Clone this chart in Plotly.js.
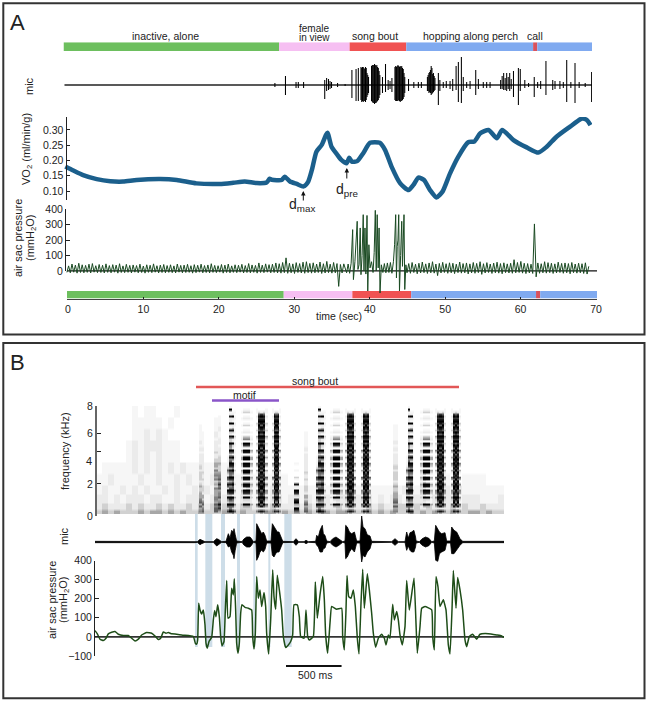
<!DOCTYPE html>
<html><head><meta charset="utf-8">
<script src="https://cdn.plot.ly/plotly-3.0.1.min.js"></script>
<style>html,body{margin:0;padding:0;background:#fff}</style></head>
<body><div id="chart" style="width:648px;height:702px"></div>
<script>
// ---------- Panel A data ----------
const stateNames = ['inactive, alone','female in view','song bout','hopping along perch','call','hopping along perch'];
const stateColors = ['#6dbf5e','#f6bff2','#f05252','#80aaf0','#d8525e','#80aaf0'];
const stateStartTop = [0,28.55,37.9,45.4,62.2,62.75];
const stateEndTop = [28.55,37.9,45.4,62.2,62.75,70];
const stateStartBot = [-0.13,28.6,37.7,45.5,62.05,62.6];
const stateEndBot = [28.6,37.7,45.5,62.05,62.6,70.13];

const micAT = [28,29.4,30.8,31.1,31.8,34.6,34.85,35.1,35.3,35.5,36.3,37.3,38.2,38.75,39.05,
 39.4,39.5,39.6,39.7,39.8,39.9,40,40.1,40.2,40.3,40.4,
 40.8,40.9,41,41.1,41.2,41.3,41.4,41.5,41.6,41.7,41.8,41.9,
 42.25,42.65,43,43.25,43.5,
 43.9,44,44.1,44.2,44.3,44.4,44.5,44.6,44.7,44.8,44.9,45,45.1,45.2,
 45.7,46.4,47,47.4,
 48.2,48.3,48.4,48.5,48.6,48.7,48.8,48.9,49,49.1,49.2,
 49.65,49.85,50.3,50.7,51.2,51.55,52,52.3,52.7,52.95,53.4,53.85,54.6,54.95,55.6,56.05,56.5,
 57.9,58.1,58.3,58.5,58.7,58.9,59.1,59.3,59.6,60.25,60.5,61.1,61.6,62.35,62.8,63.2,63.9,64.8,65.1,65.75,66.2,66.65,67.2,67.75,68.3,69.1,69.95];
const micAUp = [2,9,3,3,3,5,7,6,4,3,2,1,15,16,17,
 18,17,18,18,17,16,18,17,12,10,8,
 19,20,20,20,21,20,19,20,18,17,14,10,
 8,21,5,4,7,
 18,19,18,19,20,19,18,19,18,19,17,16,12,8,
 6,3,3,3,
 8,10,12,13,15,19,17,11,12,9,7,
 12,5,3,4,4,6,19,23,28,8,3,4,15,6,3,3,3,
 5,9,12,7,12,8,12,6,14,17,16,5,2,8,3,4,24,5,4,4,3,25,3,22,3,2,13];
const micADown = [2,10,3,3,3,14,6,5,4,3,2,1,13,16,16,
 15,17,16,17,16,16,17,15,12,10,8,
 16,17,18,18,19,18,18,17,16,15,13,10,
 8,7,5,4,7,
 15,16,16,16,16,15,16,17,16,16,15,14,12,8,
 6,3,3,3,
 6,6,8,7,8,10,9,8,7,6,5,
 20,6,3,3,4,6,5,17,18,6,3,4,10,4,3,3,3,
 4,4,5,5,6,4,6,4,12,20,6,3,2,12,3,4,10,5,4,4,3,17,3,18,3,2,17];

const vo2T = [0.24,1.3,2.6,4.4,6.2,7.9,9.7,12.8,15,17.6,20.7,22.5,24,25.6,26.9,27.3,27.6,28.9,29.3,30,30.9,31.8,32.4,32.9,33.5,34.2,34.95,
 35.5,36.2,36.8,37.5,37.85,38.2,38.9,39.7,40.6,41.9,42.6,43.45,44.6,45.7,46.35,47,47.75,48.55,49.4,50.2,51.2,52.3,53.6,54.4,55.2,56.3,57.4,58.1,59.6,61.35,62.9,64,65.3,67.1,68.6,69.3,69.8];
const vo2V = [0.18,0.167,0.152,0.139,0.132,0.131,0.136,0.139,0.136,0.125,0.123,0.127,0.131,0.126,0.128,0.14,0.137,0.136,0.147,0.131,0.123,0.115,0.13,0.169,0.229,0.251,0.291,
 0.245,0.221,0.202,0.191,0.209,0.196,0.198,0.224,0.258,0.258,0.234,0.18,0.125,0.103,0.12,0.144,0.136,0.103,0.079,0.098,0.158,0.213,0.26,0.262,0.289,0.30,0.273,0.30,0.267,0.243,0.226,0.245,0.278,0.311,0.337,0.333,0.316];

const pressStep = 0.225, pressStartBefore = 0.45, pressStartAfter = 45.5;
const pressBefore = [-9,33,-12,45,-8,38,-14,50,-10,40,-12,36,-9,44,-13,48,-8,34,-11,42,
 -10,37,-13,46,-9,35,-12,41,-8,38,-14,47,-10,33,-11,43,-9,36,-13,39,
 -8,35,-12,44,-10,32,-14,40,-9,37,-11,46,-8,34,-13,38,-10,42,-12,35,
 -9,40,-11,33,-13,45,-8,36,-12,38,-10,43,-9,34,-14,41,-11,37,-8,44,
 -12,35,-10,39,-13,47,-9,36,-11,34,-8,42,-14,38,-10,45,-12,33,-9,40,
 -11,37,-8,43,-13,35,-10,48,-12,39,-9,36,-14,52,-10,38,-11,46,-8,41,
 -12,44,-10,52,-13,47,-14,55,-11,85,-15,50,-12,46,-16,54,-10,48,-13,57,
 -15,60,-11,49,-14,53,-12,45,-10,58,-16,47,-13,62,-11,44,-14,55,-12,48,
 -100,42,-13,46];
const pressSongT = [37.5,37.7,37.9,38.1,38.3,38.4,38.6,38.9,39,39.15,39.3,39.4,39.55,39.7,39.8,39.93,40.05,40.2,40.3,40.45,40.6,40.8,41,41.15,41.3,41.42,41.55,41.68,41.8,41.92,42.1,42.3,42.5,42.7,42.9,43.1,43.3,43.5,43.7,43.85,44,44.1,44.2,44.3,44.4,44.5,44.65,44.8,44.9,45,45.1,45.2,45.35];
const pressSongV = [-12,45,-15,50,268,-56,60,322,10,40,279,-24,100,365,0,279,-20,360,-130,170,20,60,-10,120,393,0,365,20,279,-143,40,-10,48,-12,52,-10,55,-15,60,170,365,-45,160,200,365,-130,100,322,30,279,365,-120,40];
const pressAfter = [-12,48,-15,55,-10,44,-18,50,-13,58,-11,46,-16,52,-12,60,-14,45,-30,49,
 -13,56,-10,47,-15,53,-12,50,-17,44,-11,58,-14,48,-12,52,-19,46,-13,55,
 -15,49,-11,60,-22,47,-13,54,-10,45,-16,51,-12,57,-14,48,-18,53,-11,46,
 -13,50,-15,73,-12,55,-10,62,-14,50,-17,48,-13,44,-16,305,-38,52,-15,47,
 -12,60,-14,54,-11,50,-16,46,-13,57,-10,49,-15,52,-12,48,-18,55,-11,45,
 -14,50,-12,47,-16,53,-20,30];

// ---------- Panel B data ----------
const sylStart = [930,952, 1065,1095, 1179,1200,1222,1245, 1305,1325,1390, 1440,1460,1480,1505,1525, 1581,1598,1615,1635,1650, 1785, 1875,
 1980,2000,2025,2050, 2109,2130,2198, 2241,2260,2280,2305,2325, 2385,2402,2420,2440,2458, 2670,
 2790,2808,2830,2850, 2919,2940,3008, 3051,3070,3090,3115,3135, 3195,3212,3230,3250,3268];
const sylEnd   = [952,975, 1095,1125, 1200,1222,1245,1260, 1325,1390,1410, 1460,1480,1505,1525,1545, 1598,1615,1635,1650,1665, 1830, 1905,
 2000,2025,2050,2070, 2130,2198,2220, 2260,2280,2305,2325,2340, 2402,2420,2440,2458,2475, 2715,
 2808,2830,2850,2865, 2940,3008,3030, 3070,3090,3115,3135,3150, 3212,3230,3250,3268,3285];
const sylKind  = ['fa','fb','s2a','s2b','s3a','s3b','s3c','s3e','s4e','s4','s4e','de','dc','dd','dc','de','de','dd','dc','dd','de','s7','fb',
 's3a','s3b','s3c','s3e','s4e','s4','s4e','de','dc','dd','dc','de','de','dd','dc','dd','de','fa',
 's3a','s3b','s3c','s3e','s4e','s4','s4e','de','dc','dd','dc','de','de','dd','dc','dd','de'];
// darkness by frequency, low to high (1/6 kHz per digit)
const fa  = "354646544433432333323322222122122111111100000000";
const fb  = "265465344233322322322222222122111111100000000000";
const s2a = "266564554445343545453443322322222122211111100000";
const s2b = "247685465546574655433343332222122211122111110000";
const s3a = "373693593693683672463211110000000000000000000000";
const s3b = "495694793796584795684796583694593382381292282191";
const s3c = "583694692796695794695793592692392291382291292100";
const s3e = "261350240241130120130120120110120130110120110100";
const s4  = "100490390790890890990890990890790530210310210310";
const s4e = "000240130340340340340340440340230210100100100100";
const de  = "250460350450350460240350240350230240130230120110";
const dc  = "370695896797896978697978896979869797968979786300";
const dd  = "480869797869979687968797978696979796879689797200";
const s7  = "169049703790280130010010000000000000000000000000";
const specProfiles = {fa,fb,s2a,s2b,s3a,s3b,s3c,s3e,s4,s4e,de,dc,dd,s7};
// background haze of the spectrogram, bottom band first
const bgBandLow = [0,2,5,9,13,18,23,28,33,38,43];
const bgGrid = [
 "34343334344343433433344343334434343433434433343434334343433433443433",
 "23222323223232232323232233222322232323223232232322332323222323223222",
 "22121222122112122212122122121221221212212212221212212221212212221112",
 "12112121211212112121112112111211111111111111111111121121112121111111",
 "11211112112112121112111111111111000000000000000000000010011001111000",
 "01111121212121211111111000010000000000000000000000000000000000000000",
 "00000121212111000000000000000000000000000000000000000000000000000000",
 "00000121222111000000000000000000000000000000000000000000000000000000",
 "00000011212100000000000000000000000000000000000000000000000000000000",
 "00000011111010000000000000000000000000000000000000000000000000000000",
 "00000010110001000000000000000000000000000000000000000000000000000000"];

const blockStart = [900,993,1134,1278,1425,1560,1704];
const blockEnd   = [924,1056,1170,1305,1443,1578,1770];

// mic envelope in panel B: time (ms), upper and lower extent
const micBT    = [0,900,921,945,960,990,1065,1095,1110,1140,1179,1190,1200,1215,1230,1245,1251,1262,1275,1323,1340,1365,1395,1410,1425,1449,1455,1470,1485,1500,1515,1530,1545,1584,1596,1611,1626,1641,1656,1671,1690,1785,1809,1833,1881,1899,1920,1986,1995,2010,2025,2046,2055,2070,2085,2115,2140,2169,2195,2229,2250,2256,2271,2290,2310,2335,2355,2385,2394,2400,2412,2430,2450,2475,2490,2670,2700,2730,2790,2805,2820,2835,2850,2870,2885,2890,2919,2945,2975,3005,3030,3054,3066,3085,3100,3120,3150,3165,3200,3210,3231,3255,3285,3309,3681];
const micBUp   = [2,2,1,8,5,1,1,10,8,1,2,15,25,12,35,30,40,22,3,1,9,15,15,9,1,3,55,45,35,25,30,20,3,3,55,45,35,30,30,15,2,1,10,1,1,5,1,2,20,15,35,50,25,20,3,1,10,15,10,1,3,50,45,30,25,30,3,3,45,78,45,40,22,18,2,1,10,1,1,30,12,28,30,35,15,3,1,10,15,11,1,3,50,38,30,25,28,3,3,45,35,30,10,2,2];
const micBDown = [2,2,1,8,5,1,1,12,8,1,2,8,15,12,30,40,50,25,3,1,9,15,15,9,1,3,55,45,30,25,30,22,3,3,40,45,35,30,30,15,2,1,10,1,1,5,1,2,10,15,30,30,20,18,3,1,10,15,10,1,3,50,45,30,20,30,3,3,40,60,40,45,30,20,2,1,10,1,1,25,12,25,30,30,15,3,1,10,15,11,1,3,55,58,35,30,25,3,3,35,35,25,10,2,2];

const pressBT = [0,21,45,75,99,120,150,180,210,255,300,330,360,390,420,465,510,540,570,591,615,639,660,690,735,795,885,903,915,924,933,945,960,975,990,999,1011,1026,1050,1065,1077,1089,1104,1119,1131,1143,1161,1173,1185,1197,1215,1230,1245,1254,1266,1275,1287,1299,1311,1323,1350,1380,1410,1419,1431,1443,1455,1470,1485,1500,1521,1536,1545,1563,1581,1599,1611,1626,1641,1659,1680,1695,1716,1740,1761,1779,
 1791,1821,1839,1851,1881,1899,1914,1929,1965,1983,2001,2025,2049,2064,2076,2094,2115,2130,2175,2220,2229,2244,2259,2268,2283,2304,2325,2343,2361,2376,2394,2409,2424,2451,2469,2490,2505,2526,2550,2580,2604,2619,2640,2655,2679,2694,2715,2730,2745,2766,2790,2805,2829,2871,2889,2901,2925,2940,2970,3030,3039,3054,3069,3087,3105,3135,3159,3180,3195,3213,3225,3249,3264,3285,3309,3330,3345,3369,3399,3435,3465,3540,3615,3660,3681];
const pressBV = [33,16,-12,-19,-7,16,24,28,14,7,7,-7,-21,-12,10,23,19,5,-14,-7,26,19,23,16,14,9,2,-33,-38,-16,176,141,120,141,63,-33,-59,-24,-2,89,138,106,168,106,2,-47,-24,141,295,98,106,255,220,304,141,-33,-85,-33,124,168,155,150,141,2,-63,19,316,202,246,159,232,159,19,-89,89,351,211,145,323,246,141,2,-56,-42,-24,10,
 168,168,106,2,-7,141,2,-16,2,288,98,220,316,195,10,-85,72,159,145,150,2,-68,141,321,211,202,246,159,-7,-89,176,354,150,330,246,124,19,-54,-7,14,-7,-42,10,-7,171,89,133,89,10,-42,54,295,141,307,72,-85,54,150,159,141,2,-68,316,262,159,194,141,-42,-89,141,347,150,311,246,141,-16,-51,2,14,-12,14,17,10,5,-3];

const scaleBarT = [1719,2219];
const songBoutT = [909,3276];
const motifT = [1053,1656];

// ---------- pixel helpers ----------
const W = 648, H = 702;
const px = v => v / W, py = v => 1 - v / H;
const domX = (a,b) => [a/W, b/W];
const domY = (top,bottom) => [1-bottom/H, 1-top/H];
const FONT = 'Liberation Sans, Arial, sans-serif', INK = '#222';

const traces = [];
function stateBars(starts, ends, xa, ya){
  stateColors.forEach((c,i) => traces.push({type:'bar',orientation:'h',x:[ends[i]-starts[i]],base:[starts[i]],y:[0],width:[1],
    xaxis:xa,yaxis:ya,marker:{color:c,line:{width:0}},hoverinfo:'skip',showlegend:false,name:stateNames[i]}));
}
stateBars(stateStartTop,stateEndTop,'x2','y');
stateBars(stateStartBot,stateEndBot,'x','y6');

// mic A
traces.push({type:'scatter',mode:'lines',x:[0.13,70],y:[0,0],xaxis:'x2',yaxis:'y2',line:{color:'#222',width:1.4}});
const mx=[],my=[];
micAT.forEach((t,i)=>{mx.push(t,t,null);my.push(micAUp[i],-micADown[i],null);});
traces.push({type:'scatter',mode:'lines',x:mx,y:my,xaxis:'x2',yaxis:'y2',line:{color:'#000',width:1.05},connectgaps:false});

// VO2
traces.push({type:'scatter',mode:'lines',x:vo2T,y:vo2V,xaxis:'x2',yaxis:'y3',line:{color:'#1b5f8c',width:4.5,shape:'spline',smoothing:0.6}});

// pressure A: visible axis (y4) holds the ticks, y5 extends below zero for the trace
traces.push({type:'scatter',mode:'lines',x:[0],y:[0],xaxis:'x2',yaxis:'y4',line:{width:0}});
const pax=[],pay=[];
pressBefore.forEach((v,i)=>{pax.push(pressStartBefore+i*pressStep);pay.push(v);});
pressSongT.forEach((t,i)=>{pax.push(t);pay.push(pressSongV[i]);});
pressAfter.forEach((v,i)=>{pax.push(pressStartAfter+i*pressStep);pay.push(v);});
traces.push({type:'scatter',mode:'lines',x:pax,y:pay,xaxis:'x2',yaxis:'y5',line:{color:'#1a4a22',width:1}});
traces.push({type:'scatter',mode:'lines',x:[-0.13,70.13],y:[0,0],xaxis:'x',yaxis:'y5',line:{color:'#111',width:1.3}});

// spectrogram
const colStep=9, rowN=48, colN=Math.round(3681/colStep);
const specX=[],specY=[],specZ=[];
for(let c=0;c<colN;c++) specX.push((c+0.5)*colStep);
for(let r=0;r<rowN;r++){
  specY.push(0.14+(r+0.5)*7.86/rowN);
  let band=0; bgBandLow.forEach((lo,i)=>{if(r>=lo)band=i;});
  const row=[];
  for(let c=0;c<colN;c++){
    const t=specX[c];
    let d=+(bgGrid[band][Math.floor(t/54)]||0);
    sylStart.forEach((s,i)=>{
      if(t>=s&&t<sylEnd[i]){const v=+(specProfiles[sylKind[i]][r]||0); if(v>d)d=v;}
    });
    row.push(d);
  }
  specZ.push(row);
}
traces.push({type:'heatmap',x:specX,y:specY,z:specZ,xaxis:'x3',yaxis:'y7',zmin:0,zmax:9,showscale:false,hoverinfo:'skip',zsmooth:'best',
  colorscale:[[0,'#ffffff'],[0.11,'#f6f6f6'],[0.22,'#ececec'],[0.33,'#d2d2d2'],[0.44,'#a8a8a8'],[0.66,'#606060'],[0.85,'#1c1c1c'],[1,'#000000']]});

// mic B (envelope, filled)
traces.push({type:'scatter',mode:'lines',x:micBT.concat(micBT.slice().reverse()),
  y:micBUp.concat(micBDown.map(v=>-v).reverse()),xaxis:'x3',yaxis:'y8',fill:'toself',fillcolor:'#000',line:{color:'#000',width:0.8}});

// pressure B
traces.push({type:'scatter',mode:'lines',x:[0,3681],y:[0,0],xaxis:'x3',yaxis:'y9',line:{color:'#333',width:1.6}});
traces.push({type:'scatter',mode:'lines',x:pressBT,y:pressBV,xaxis:'x3',yaxis:'y9',line:{color:'#1e4d18',width:1.5,shape:'spline',smoothing:0.35}});

// ---------- annotations ----------
function label(text,x,y,size,opt){
  return Object.assign({text,x:px(x),y:py(y),xref:'paper',yref:'paper',showarrow:false,xanchor:'center',yanchor:'middle',
    font:{family:FONT,size:size||10.5,color:INK}},opt||{});
}
const rot={textangle:-90};
const annotations=[
 label('A',17,22,22), label('B',17,362,22),
 label('inactive, alone',165,36), label('female',314,28.5,10), label('in view',314,38,10),
 label('song bout',375,36), label('hopping along perch',470,36), label('call',535,36),
 label('mic',29,86,11,rot),
 label('VO<sub>2</sub> (ml/min/g)',27,149,11,rot),
 label('air sac pressure',18,238,11,rot), label('(mmH<sub>2</sub>O)',31,238,11,rot),
 label('time (sec)',339,316,10.5),
 label('d<sub>max</sub>',302,205,14), label('d<sub>pre</sub>',347.5,190,14),
 {x:px(303.3),y:py(191),ax:0,ay:11,xref:'paper',yref:'paper',text:'',showarrow:true,arrowhead:2,arrowsize:0.9,arrowwidth:1,arrowcolor:'#111'},
 {x:px(346.8),y:py(168),ax:0,ay:12,xref:'paper',yref:'paper',text:'',showarrow:true,arrowhead:2,arrowsize:0.9,arrowwidth:1,arrowcolor:'#111'},
 label('song bout',315,381), label('motif',244,395),
 label('frequency (kHz)',65,451,11,rot), label('mic',64,536,11,rot),
 label('air sac pressure',52,600,11,rot), label('(mmH<sub>2</sub>O)',64,600,11,rot),
 label('4',89,461,11), label('500 ms',315,675,10.5)
];

// ---------- shapes ----------
const shapes=[
 {type:'rect',xref:'paper',yref:'paper',x0:px(3.3),x1:px(644.5),y0:py(3.3),y1:py(334.5),line:{color:'#333',width:2}},
 {type:'rect',xref:'paper',yref:'paper',x0:px(3.3),x1:px(644.5),y0:py(343),y1:py(698.3),line:{color:'#333',width:2}},
 {type:'line',xref:'x3',yref:'paper',x0:songBoutT[0],x1:songBoutT[1],y0:py(387),y1:py(387),line:{color:'#e25757',width:2.4}},
 {type:'line',xref:'x3',yref:'paper',x0:motifT[0],x1:motifT[1],y0:py(400.5),y1:py(400.5),line:{color:'#8a55c9',width:2.4}},
 {type:'line',xref:'x3',yref:'paper',x0:scaleBarT[0],x1:scaleBarT[1],y0:py(666),y1:py(666),line:{color:'#111',width:2}}
];
blockStart.forEach((s,i)=>shapes.push({type:'rect',layer:'below',xref:'x3',yref:'paper',x0:s,x1:blockEnd[i],y0:py(514),y1:py(647),line:{width:0},fillcolor:'#cddde8'}));

const hid=(dom,range)=>({domain:dom,range,visible:false,fixedrange:true,anchor:'free',position:0});
const tickAxis=(dom,range,pos,vals,extra)=>Object.assign({domain:dom,range,anchor:'free',position:pos/W,side:'left',showline:true,linecolor:'#222',linewidth:1.3,
  showgrid:false,zeroline:false,ticks:'inside',ticklen:3.5,tickwidth:1,tickcolor:'#222',tickvals:vals,tickfont:{family:FONT,size:10.5,color:INK},fixedrange:true},extra||{});

const layout={
 width:W,height:H,margin:{l:0,r:0,t:0,b:0},paper_bgcolor:'#fff',plot_bgcolor:'rgba(0,0,0,0)',showlegend:false,barmode:'overlay',hovermode:false,
 font:{family:FONT,size:11,color:INK},
 xaxis:{domain:domX(67,597),range:[-0.13,70.13],anchor:'y6',side:'bottom',showline:true,linecolor:'#444',linewidth:1.6,showgrid:false,zeroline:false,
   ticks:'inside',ticklen:2,tickwidth:1,tickcolor:'#222',tickvals:[0,10,20,30,40,50,60,70],tickfont:{family:FONT,size:10.5,color:INK},fixedrange:true},
 xaxis2:hid(domX(63.5,592),[0,70]),
 xaxis3:hid(domX(95,504),[0,3681]),
 yaxis:hid(domY(42.3,51),[-0.5,0.5]),
 yaxis2:hid(domY(55,115),[-30,30]),
 yaxis3:tickAxis(domY(117,200),[0.0705,0.3426],65.5,[0.10,0.15,0.20,0.25,0.30],{tickformat:'.2f'}),
 yaxis4:tickAxis(domY(209.3,271),[0,400],65,[0,100,200,300,400]),
 yaxis5:hid(domY(206.2,294.1),[-150,420]),
 yaxis6:hid(domY(291,298.5),[-0.5,0.5]),
 yaxis7:tickAxis(domY(406,516),[0,8],96,[0,2.33,4.7,6,8],{ticktext:['0','2','','6','8'],linecolor:'#666',linewidth:2}),
 yaxis8:hid(domY(508.7,575.3),[-100,100]),
 yaxis9:tickAxis(domY(560.5,656),[-100,400],94,[-100,0,100,200,300,400]),
 annotations,shapes
};
Plotly.newPlot('chart',traces,layout,{staticPlot:true,displayModeBar:false});
</script></body></html>
